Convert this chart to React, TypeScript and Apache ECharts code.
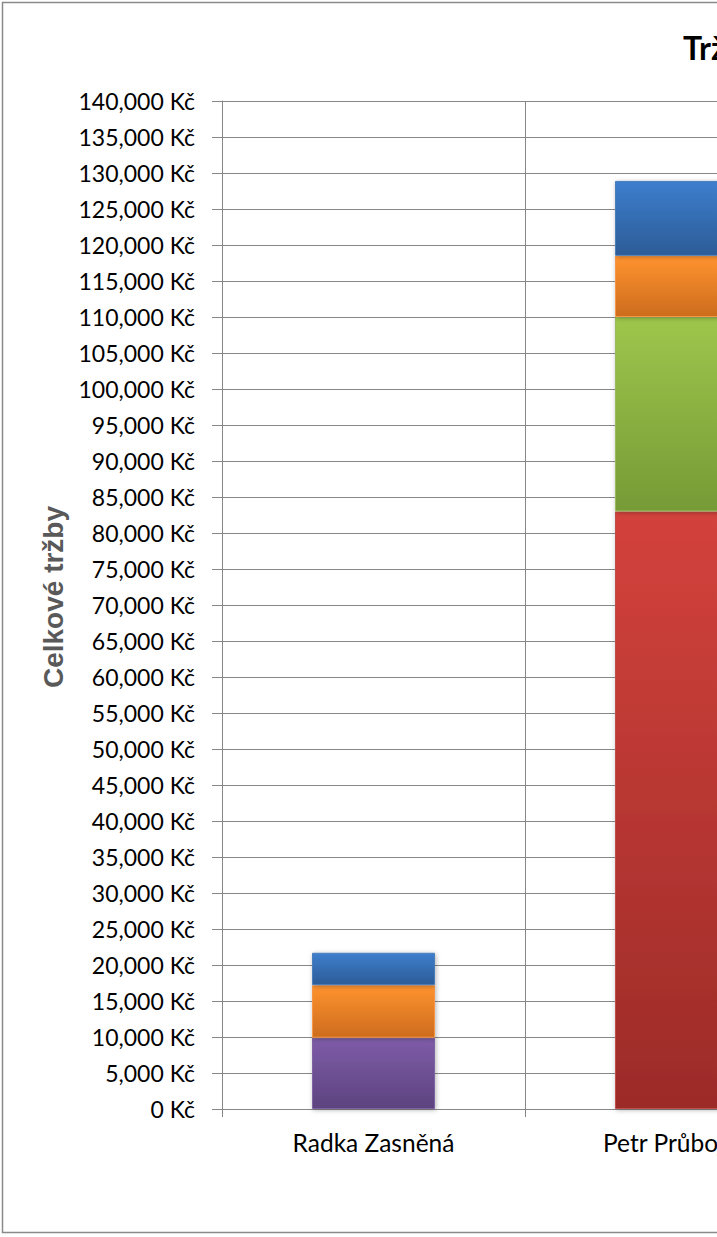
import React, { useEffect, useRef } from "react";
import * as echarts from "echarts";

const categories = ["Radka Zasněná", "Petr Průbojný"];
const seriesNames = ["Řada 1", "Řada 2", "Řada 3", "Řada 4", "Řada 5"];
const redValues = [0, 83000];
const greenValues = [0, 27000];
const purpleValues = [9900, 0];
const orangeValues = [7300, 8500];
const blueValues = [4500, 10400];
const yTicks = { min: 0, max: 140000, interval: 5000 };
const titleText = "Tržby podle obchodníků";
const yAxisName = "Celkové tržby";

const palette = [
  { top: "#d3423c", bottom: "#9c2b28", border: "#c0504d" },
  { top: "#9ec64c", bottom: "#769a36", border: "#9bbb59" },
  { top: "#7e5ca8", bottom: "#5d437f", border: "#8064a2" },
  { top: "#ff932f", bottom: "#cd6c1e", border: "#f79646" },
  { top: "#3d7ecd", bottom: "#2c5c97", border: "#4a7ebb" },
];

export default function App() {
  const ref = useRef<HTMLDivElement>(null);
  useEffect(() => {
    if (!ref.current) return;
    const chart = echarts.init(ref.current, undefined, { renderer: "svg" });
    const values = [redValues, greenValues, purpleValues, orangeValues, blueValues];
    const series = values.map((vals, i) => ({
      name: seriesNames[i],
      type: "bar",
      stack: "total",
      barWidth: 123,
      data: vals.map((v) => (v === 0 ? null : v)),
      itemStyle: {
        color: new echarts.graphic.LinearGradient(0, 0, 0, 1, [
          { offset: 0, color: palette[i].top },
          { offset: 1, color: palette[i].bottom },
        ]),
        borderColor: palette[i].border,
        borderWidth: 1,
        shadowBlur: 5,
        shadowOffsetX: 1,
        shadowOffsetY: 1,
        shadowColor: "rgba(0,0,0,0.3)",
      },
    }));
    chart.setOption({
      animation: false,
      backgroundColor: "#ffffff",
      title: {
        text: titleText,
        left: 678,
        top: 26,
        textStyle: { fontFamily: "Lato", fontWeight: "bold", fontSize: 32, color: "#000" },
      },
      graphic: [
        {
          type: "rect",
          shape: { x: 2.5, y: 2.5, width: 1500, height: 1230 },
          style: { fill: "none", stroke: "#8a8a8a", lineWidth: 1.5 },
          silent: true,
          z: 100,
        },
      ],
      grid: { left: 222, top: 101, width: 606, height: 1008, containLabel: false },
      xAxis: {
        type: "category",
        data: categories,
        boundaryGap: true,
        axisLine: { show: true, lineStyle: { color: "#878787", width: 1 } },
        axisTick: { show: true, length: 8, alignWithLabel: false, lineStyle: { color: "#878787" } },
        splitLine: { show: true, lineStyle: { color: "#878787", width: 1 } },
        axisLabel: { color: "#000", fontFamily: "Lato", fontSize: 24.5, margin: 21 },
      },
      yAxis: {
        type: "value",
        min: yTicks.min,
        max: yTicks.max,
        interval: yTicks.interval,
        name: yAxisName,
        nameLocation: "middle",
        nameRotate: 90,
        nameGap: 150,
        nameTextStyle: {
          fontFamily: "Liberation Sans",
          fontWeight: "bold",
          fontSize: 28,
          color: "#595959",
          padding: [0, 0, 0, 16],
        },
        axisLine: { show: true, lineStyle: { color: "#878787", width: 1 } },
        axisTick: { show: true, length: 10, inside: false, lineStyle: { color: "#878787" } },
        splitLine: { show: true, lineStyle: { color: "#878787", width: 1 } },
        axisLabel: {
          color: "#000",
          fontFamily: "Lato",
          fontSize: 23,
          margin: 27,
          formatter: (v: number) => v.toLocaleString("en-US") + " Kč",
        },
      },
      series,
    });
    return () => chart.dispose();
  }, []);
  return (
    <div
      style={{
        position: "absolute",
        left: 0,
        top: 0,
        width: 717,
        height: 1237,
        overflow: "hidden",
        background: "#fff",
      }}
    >
      <div ref={ref} style={{ width: 1000, height: 1237 }} />
    </div>
  );
}
